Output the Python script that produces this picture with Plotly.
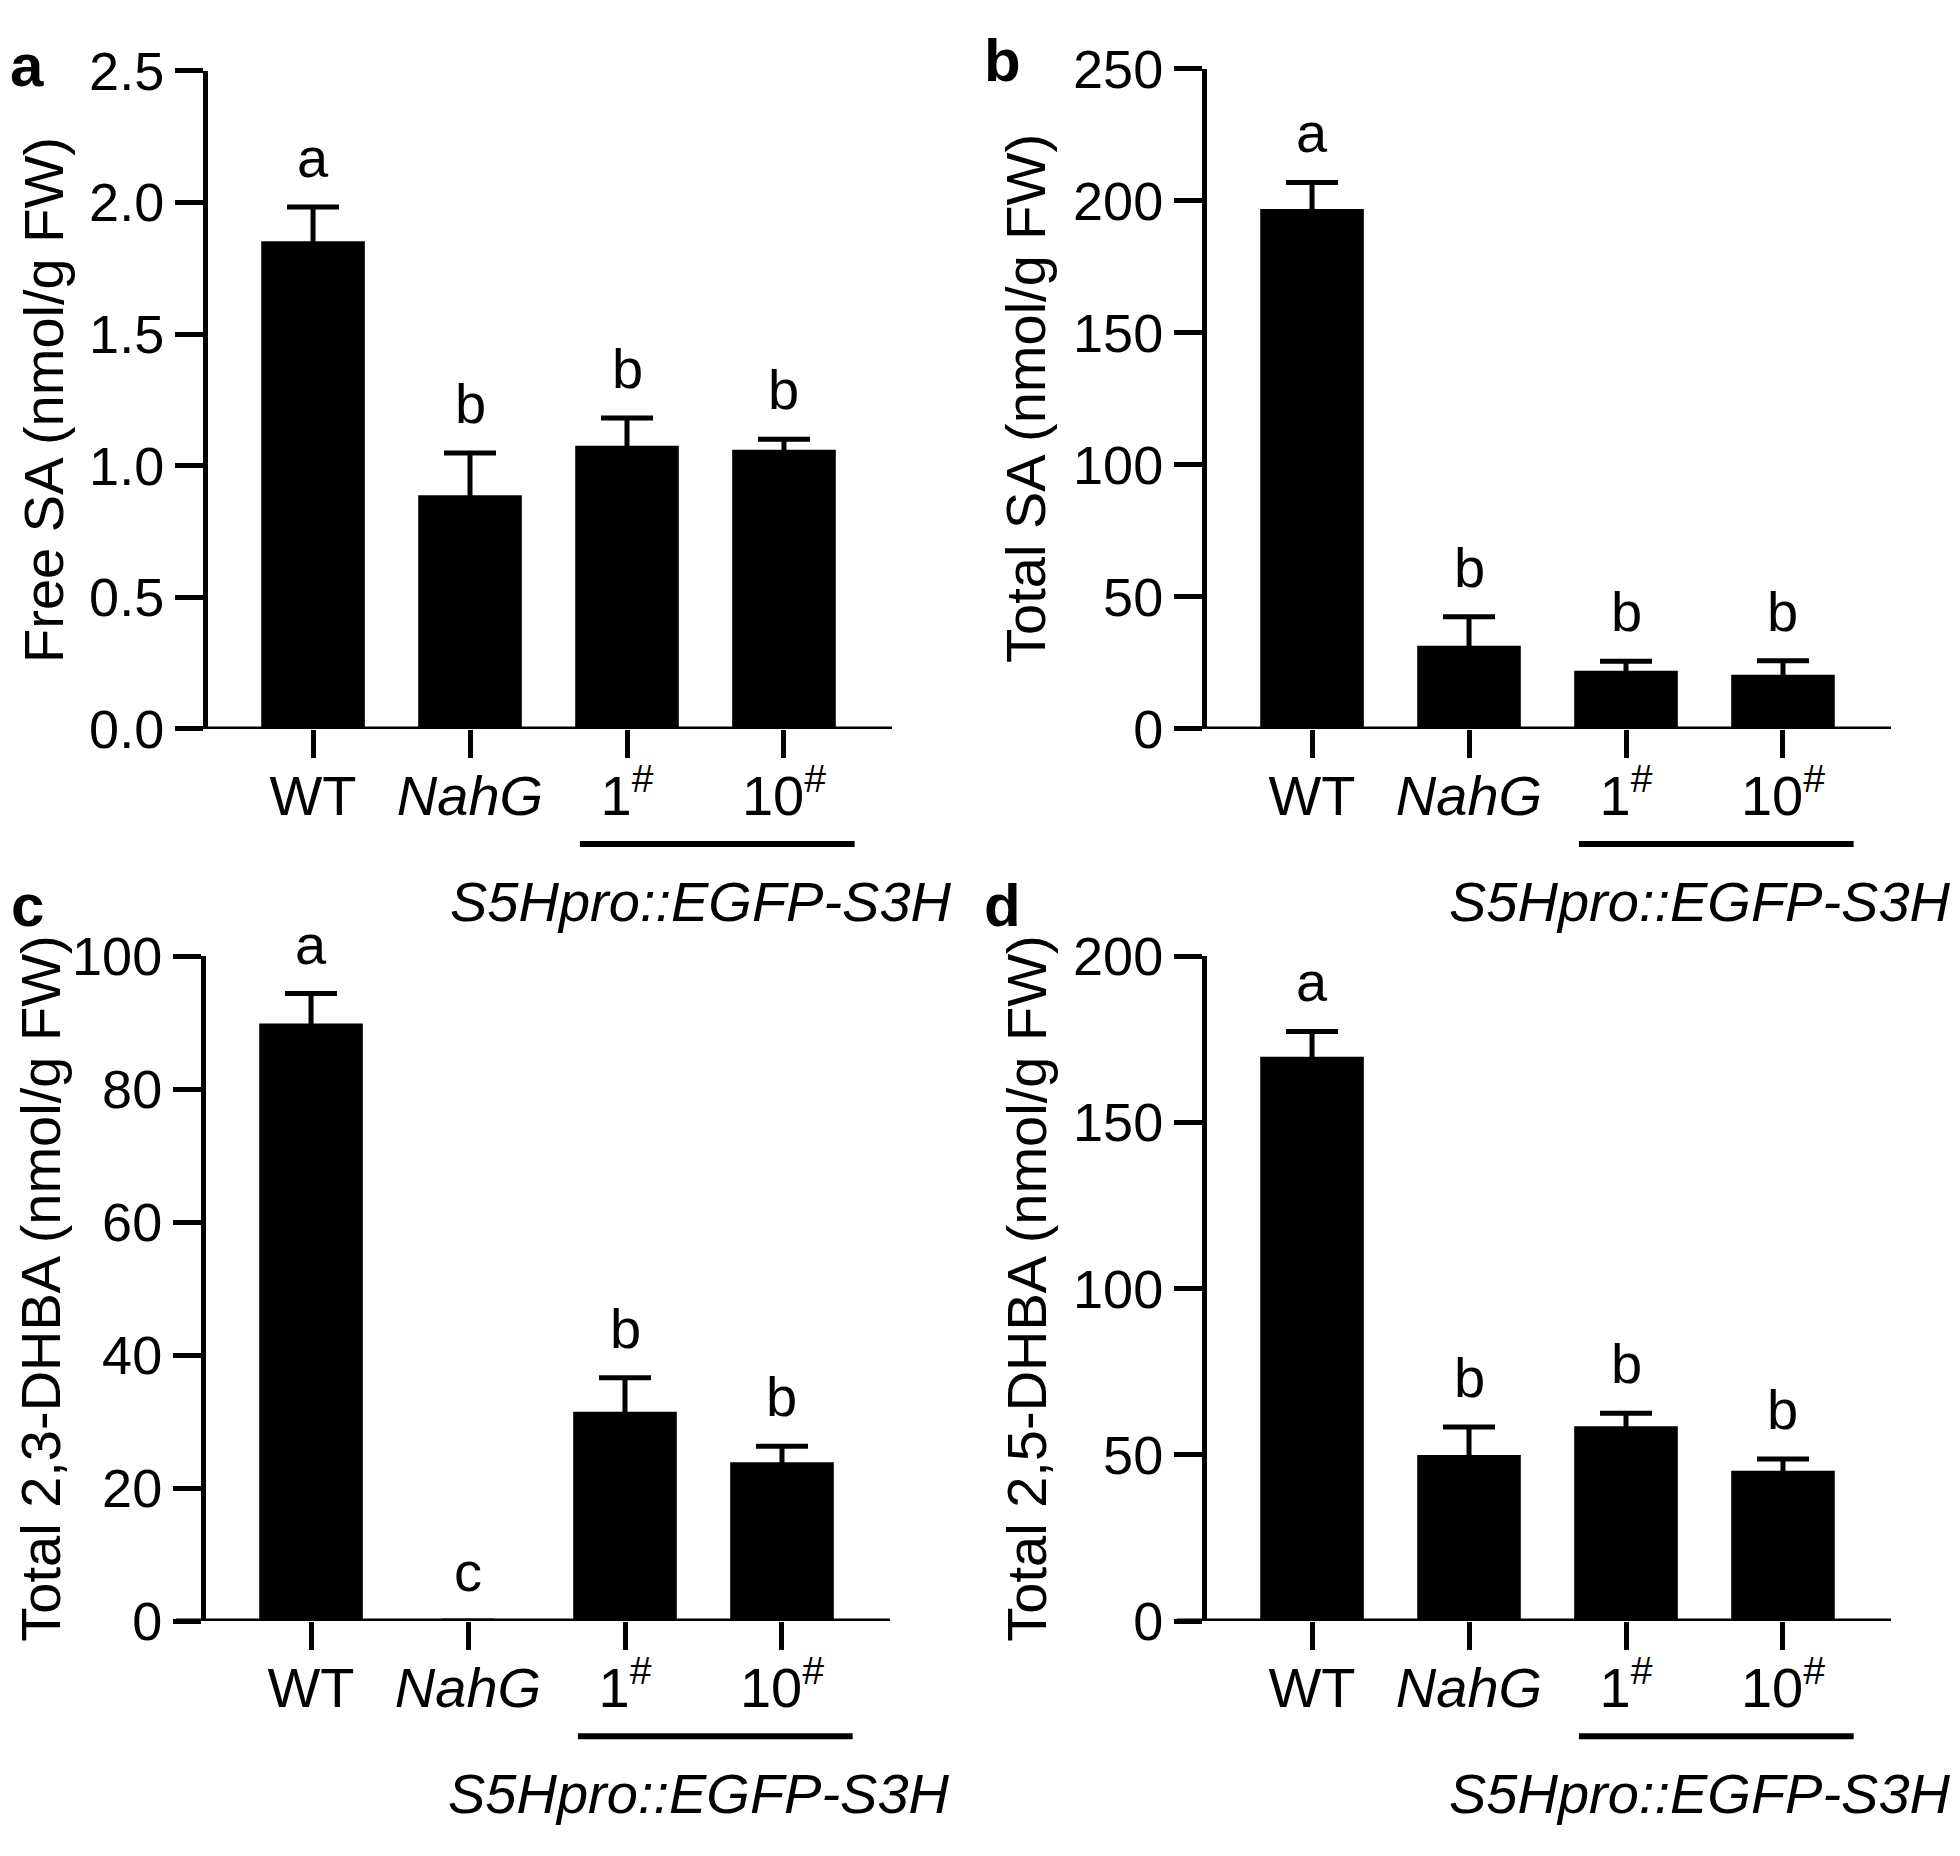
import plotly.graph_objects as go

# ---------------- data ----------------
categories = ["WT", "<i>NahG</i>", "1<sup>#</sup>", "10<sup>#</sup>"]

free_sa = [1.853, 0.888, 1.076, 1.061]
free_sa_err = [0.13, 0.16, 0.105, 0.04]
free_sa_letters = ["a", "b", "b", "b"]

total_sa = [197.0, 31.5, 22.0, 20.5]
total_sa_err = [10.0, 11.0, 3.6, 5.3]
total_sa_letters = ["a", "b", "b", "b"]

dhba23 = [89.9, 0.0, 31.5, 23.9]
dhba23_err = [4.5, None, 5.1, 2.4]
dhba23_letters = ["a", "c", "b", "b"]

dhba25 = [169.8, 50.0, 58.6, 45.2]
dhba25_err = [7.6, 8.4, 3.9, 3.6]
dhba25_letters = ["a", "b", "b", "b"]

y_ticks_a = [0.0, 0.5, 1.0, 1.5, 2.0, 2.5]
y_ticks_b = [0, 50, 100, 150, 200, 250]
y_ticks_c = [0, 20, 40, 60, 80, 100]
y_ticks_d = [0, 50, 100, 150, 200]

group_label = "<i>S5Hpro::EGFP-S3H</i>"

# ---------------- layout helpers ----------------
W, H = 1960, 1856
OFF = 8  # the page's body margin shifts the figure by this much
FONT = "Arial, Liberation Sans, Helvetica, sans-serif"


def px(x):
    return (x - OFF) / W


def py(y):
    return 1 - (y - OFF) / H


panels = [
    dict(name="a", vals=free_sa, err=free_sa_err, letters=free_sa_letters,
         ticks=y_ticks_a, fmt="{:.1f}", title="Free SA (nmol/g FW)",
         xd=(208, 892), yd=(42, 722), title_x=44, lab=(8, 36),
         line_y=841, text_y=900),
    dict(name="b", vals=total_sa, err=total_sa_err, letters=total_sa_letters,
         ticks=y_ticks_b, fmt="{:d}", title="Total SA (nmol/g FW)",
         xd=(1207, 1891), yd=(40, 722), title_x=1026, lab=(982, 31),
         line_y=841, text_y=900),
    dict(name="c", vals=dhba23, err=dhba23_err, letters=dhba23_letters,
         ticks=y_ticks_c, fmt="{:d}", title="Total 2,3-DHBA (nmol/g FW)",
         xd=(206, 890), yd=(957, 1644), title_x=41, lab=(9, 904),
         line_y=1763, text_y=1822),
    dict(name="d", vals=dhba25, err=dhba25_err, letters=dhba25_letters,
         ticks=y_ticks_d, fmt="{:d}", title="Total 2,5-DHBA (nmol/g FW)",
         xd=(1207, 1891), yd=(957, 1644), title_x=1027, lab=(982, 904),
         line_y=1763, text_y=1822),
]

fig = go.Figure()
layout = dict(
    width=W, height=H,
    margin=dict(l=0, r=0, t=0, b=0),
    paper_bgcolor="white", plot_bgcolor="white",
    showlegend=False,
    font=dict(family=FONT, color="black"),
)
annotations = []
shapes = []

x_range = [-0.669, 3.688]
xs = [0, 1, 2, 3]

for i, p in enumerate(panels):
    n = "" if i == 0 else str(i + 1)
    xa, ya = "x" + n, "y" + n
    ymax = p["ticks"][-1]
    plot_h = p["yd"][1] - p["yd"][0]
    hide = ymax * 7 / plot_h   # lower cap tucked inside the bar
    err_plus = p["err"]
    err_minus = [None if e is None else hide for e in p["err"]]
    fig.add_trace(go.Bar(
        x=xs, y=p["vals"], width=0.66,
        marker=dict(color="black", line=dict(width=0)),
        error_y=dict(type="data", symmetric=False, array=err_plus,
                     arrayminus=err_minus, thickness=5, width=26,
                     color="black"),
        xaxis=xa, yaxis=ya, hoverinfo="skip",
    ))
    layout["xaxis" + n] = dict(
        domain=[px(p["xd"][0]), px(p["xd"][1])], range=x_range,
        anchor=ya, tickvals=xs, ticktext=categories,
        ticks="outside", ticklen=28, tickwidth=5, tickcolor="black",
        ticklabelstandoff=-10,
        showline=False, showgrid=False, zeroline=False,
        tickfont=dict(size=56, family=FONT, color="black"), fixedrange=True,
    )
    layout["yaxis" + n] = dict(
        domain=[py(p["yd"][1]), py(p["yd"][0])], range=[0, ymax],
        anchor=xa, tickvals=p["ticks"],
        ticktext=[p["fmt"].format(t) for t in p["ticks"]],
        ticks="outside", ticklen=28, tickwidth=5, tickcolor="black",
        showline=True, linewidth=5, linecolor="black",
        showgrid=False, zeroline=False,
        tickfont=dict(size=54, family=FONT, color="black"), fixedrange=True,
    )
    # x baseline (extends left to the y tick length, like the original)
    shapes.append(dict(type="line", xref=xa + " domain", yref=ya,
                       x0=-30 / 684, x1=1.0, y0=0, y1=0,
                       line=dict(color="black", width=5)))
    # group underline
    shapes.append(dict(type="line", xref=xa, yref="paper",
                       x0=1.70, x1=3.45, y0=py(p["line_y"]), y1=py(p["line_y"]),
                       line=dict(color="black", width=6)))
    annotations.append(dict(text=group_label, xref=xa, yref="paper",
                            x=2.47, y=py(p["text_y"]), xanchor="center",
                            yanchor="middle", showarrow=False,
                            font=dict(size=56, family=FONT, color="black")))
    # significance letters
    for k in range(4):
        top = p["vals"][k] + (p["err"][k] or 0)
        annotations.append(dict(text=p["letters"][k], xref=xa, yref=ya,
                                x=xs[k], y=top, xanchor="center",
                                yanchor="bottom", yshift=16, showarrow=False,
                                font=dict(size=56, family=FONT, color="black")))
    # y-axis title
    annotations.append(dict(text=p["title"], xref="paper", yref="paper",
                            x=px(p["title_x"]),
                            y=py((p["yd"][0] + p["yd"][1]) / 2),
                            xanchor="center", yanchor="middle", textangle=-90,
                            showarrow=False,
                            font=dict(size=56, family=FONT, color="black")))
    # panel letter
    annotations.append(dict(text="<b>" + p["name"] + "</b>", xref="paper",
                            yref="paper", x=px(p["lab"][0]), y=py(p["lab"][1]),
                            xanchor="left", yanchor="middle", showarrow=False,
                            font=dict(size=60, family=FONT, color="black")))

layout["annotations"] = annotations
layout["shapes"] = shapes
fig.update_layout(**layout)
fig.write_html("out.html")
